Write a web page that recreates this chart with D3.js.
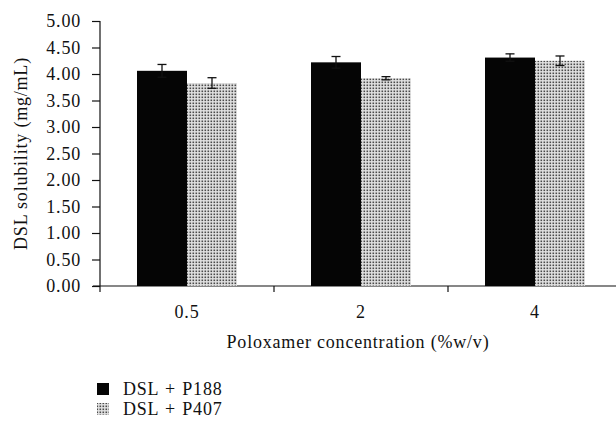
<!DOCTYPE html>
<html lang="en">
<head>
<meta charset="UTF-8">
<title>DSL solubility</title>
<script src="https://d3js.org/d3.v7.min.js"></script>
<style>
  body { margin: 0; background: #fff; }
  text { font-family: "Liberation Serif", "DejaVu Serif", serif; fill: #111; }
</style>
</head>
<body>
<div id="chart"></div>
<script>
// data
const categories = ["0.5", "2", "4"];
const seriesNames = ["DSL + P188", "DSL + P407"];
const p188 = [4.06, 4.22, 4.31];
const p188Err = [0.12, 0.11, 0.07];
const p407 = [3.83, 3.92, 4.25];
const p407Err = [0.10, 0.03, 0.09];
const yTicks = [0, 0.5, 1, 1.5, 2, 2.5, 3, 3.5, 4, 4.5, 5];

const width = 616, height = 423;
const fontSize = "18px", spacing = "0.8px";

const svg = d3.select("#chart").append("svg")
    .attr("width", width)
    .attr("height", height);

// dotted fill for P407
const defs = svg.append("defs");
const pat = defs.append("pattern")
    .attr("id", "dots")
    .attr("patternUnits", "userSpaceOnUse")
    .attr("width", 3).attr("height", 3);
pat.append("rect").attr("width", 3).attr("height", 3).attr("fill", "#e2e2e2");
pat.append("rect").attr("x", 0.5).attr("y", 0.5).attr("width", 1.6).attr("height", 1.6).attr("fill", "#4a4a4a");

const x0 = 100, x1 = 622, yTop = 21, yBot = 286;

const x = d3.scaleBand().domain(categories).range([x0, x1]);
const y = d3.scaleLinear().domain([0, 5]).range([yBot, yTop]);
const barW = 50;

function styleText(sel) {
    sel.style("font-size", fontSize)
        .style("font-family", "'Liberation Serif', serif")
        .style("letter-spacing", spacing)
        .attr("fill", "#111");
}

// y axis
const yAxis = svg.append("g")
    .attr("transform", `translate(${x0},0)`)
    .call(d3.axisLeft(y).tickValues(yTicks).tickFormat(d3.format(".2f")).tickSizeOuter(0).tickSize(8));
yAxis.select(".domain").attr("stroke", "#111").attr("stroke-width", 1.2)
    .attr("d", `M0,${yTop}V${yBot + 6}`);
yAxis.selectAll(".tick line").attr("stroke", "#111").attr("stroke-width", 1.2);
yAxis.selectAll(".tick text").attr("x", -19).call(styleText);

// x axis
const xAxis = svg.append("g")
    .attr("transform", `translate(0,${yBot})`)
    .call(d3.axisBottom(x).tickSize(6).tickSizeOuter(0));
xAxis.select(".domain").attr("stroke", "#111").attr("stroke-width", 1.2)
    .attr("d", `M${x0 - 7},0H${x1}`);
// category labels sit at band centres; tick marks go on band edges
xAxis.selectAll(".tick line")
    .attr("transform", `translate(${x.bandwidth() / 2},0)`)
    .attr("stroke", "#111").attr("stroke-width", 1.2);
xAxis.selectAll(".tick text").attr("y", 19).call(styleText);

// bars
const series = [
    { vals: p188, errs: p188Err, fill: "#050505", offset: -barW },
    { vals: p407, errs: p407Err, fill: "url(#dots)", offset: 0 }
];
series.forEach(s => {
    const g = svg.append("g");
    g.selectAll("rect")
        .data(categories)
        .enter().append("rect")
        .attr("x", (c) => x(c) + x.bandwidth() / 2 + s.offset)
        .attr("y", (c, i) => y(s.vals[i]))
        .attr("width", barW)
        .attr("height", (c, i) => yBot - y(s.vals[i]))
        .attr("fill", s.fill);
    // error bars
    categories.forEach((c, i) => {
        const cx = x(c) + x.bandwidth() / 2 + s.offset + barW / 2;
        const hi = y(s.vals[i] + s.errs[i]), lo = y(s.vals[i] - s.errs[i]);
        g.append("line").attr("x1", cx).attr("x2", cx).attr("y1", hi).attr("y2", lo)
            .attr("stroke", "#111").attr("stroke-width", 1.3);
        [hi, lo].forEach(yy => g.append("line")
            .attr("x1", cx - 4.5).attr("x2", cx + 4.5).attr("y1", yy).attr("y2", yy)
            .attr("stroke", "#111").attr("stroke-width", 1.3));
    });
});

// axis titles
svg.append("text")
    .attr("transform", `translate(27,${(yTop + yBot) / 2}) rotate(-90)`)
    .attr("text-anchor", "middle")
    .call(styleText)
    .text("DSL solubility (mg/mL)");

svg.append("text")
    .attr("x", 358).attr("y", 348)
    .attr("text-anchor", "middle")
    .call(styleText)
    .text("Poloxamer concentration (%w/v)");

// legend
const legend = svg.append("g");
seriesNames.forEach((name, i) => {
    const ly = 395 + i * 20;
    legend.append("rect")
        .attr("x", 97).attr("y", ly - 12).attr("width", 12).attr("height", 12)
        .attr("fill", series[i].fill);
    legend.append("text")
        .attr("x", 123).attr("y", ly)
        .call(styleText)
        .style("word-spacing", "1px")
        .text(name);
});
</script>
</body>
</html>
